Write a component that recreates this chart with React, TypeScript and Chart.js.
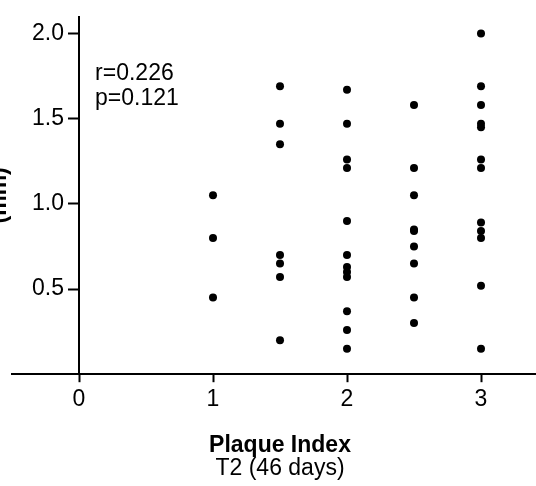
import React, { useEffect, useRef } from "react";
import { Chart, registerables } from "chart.js";

Chart.register(...registerables);

// ---- data ----
const plaqueIndexGroups = [1, 1.5, 2, 2.5, 3];
const valuesAt1 = [1.05, 0.8, 0.45];
const valuesAt15 = [1.69, 1.47, 1.35, 0.7, 0.65, 0.57, 0.2];
const valuesAt2 = [1.67, 1.47, 1.26, 1.21, 0.9, 0.7, 0.63, 0.6, 0.57, 0.37, 0.26, 0.15];
const valuesAt25 = [1.58, 1.21, 1.05, 0.85, 0.84, 0.75, 0.65, 0.45, 0.3];
const valuesAt3 = [2.0, 1.69, 1.58, 1.47, 1.45, 1.26, 1.21, 0.89, 0.84, 0.8, 0.52, 0.15];
const groupValues = [valuesAt1, valuesAt15, valuesAt2, valuesAt25, valuesAt3];

const xTickValues = [0, 1, 2, 3];
const yTickValues = [0.5, 1.0, 1.5, 2.0];
const xAxisTitle = "Plaque Index";
const xAxisSubtitle = "T2 (46 days)";
const yAxisTitle = "(mm)";
const statsLines = ["r=0.226", "p=0.121"];

const FONT = "'Liberation Sans', Arial, Helvetica, sans-serif";
const Y_TICK_LEN = 10;
const Y_TICK_PAD = 5;

// y axis sits at x = 0 (custom position); put its labels left of the tick marks
const yLabelPlacement = {
  id: "yLabelPlacement",
  beforeDraw(chart: any) {
    const ys = chart.scales.y;
    const xs = chart.scales.x;
    const axisX = xs.getPixelForValue(0);
    const items = ys.getLabelItems(chart.chartArea);
    items.forEach((it: any) => {
      it.options.translation[0] = axisX - Y_TICK_LEN - Y_TICK_PAD;
      it.options.textAlign = "right";
    });
  },
};

const overlayText = {
  id: "overlayText",
  afterDraw(chart: any) {
    const ctx = chart.ctx;
    const xs = chart.scales.x;
    const ys = chart.scales.y;
    ctx.save();
    ctx.fillStyle = "#000";
    ctx.font = `23px ${FONT}`;
    ctx.textAlign = "left";
    ctx.textBaseline = "alphabetic";
    const px = xs.getPixelForValue(0.12);
    const py = ys.getPixelForValue(1.725);
    statsLines.forEach((t, i) => ctx.fillText(t, px, py + i * 25));
    const area = chart.chartArea;
    ctx.translate(6, (area.top + area.bottom) / 2);
    ctx.rotate(-Math.PI / 2);
    ctx.font = `bold 23px ${FONT}`;
    ctx.textAlign = "center";
    ctx.fillText(yAxisTitle, 0, 0);
    ctx.restore();
  },
};

export default function App() {
  const ref = useRef<HTMLCanvasElement | null>(null);

  useEffect(() => {
    if (!ref.current) return;
    const points: { x: number; y: number }[] = [];
    plaqueIndexGroups.forEach((g, i) => {
      groupValues[i].forEach((v) => points.push({ x: g, y: v }));
    });
    const tickFont = { family: FONT, size: 23, lineHeight: 1 };
    const chart = new Chart(ref.current, {
      type: "scatter",
      data: {
        datasets: [
          {
            data: points,
            backgroundColor: "#000",
            borderColor: "#000",
            borderWidth: 0,
            pointRadius: 4,
            pointHoverRadius: 4,
          },
        ],
      },
      options: {
        animation: false,
        responsive: false,
        devicePixelRatio: 1,
        layout: { padding: { left: 12, right: 12, top: 13.3, bottom: 0 } },
        plugins: {
          legend: { display: false },
          tooltip: { enabled: false },
          title: {
            display: true,
            position: "bottom",
            text: xAxisSubtitle,
            color: "#000",
            font: { family: FONT, size: 23, weight: "normal", lineHeight: 1 },
            padding: { top: 0, bottom: 6 },
          },
        },
        scales: {
          x: {
            type: "linear",
            min: -0.5,
            max: 3.5,
            position: "bottom",
            afterBuildTicks: (s: any) => {
              s.ticks = xTickValues.map((v) => ({ value: v }));
            },
            grid: {
              display: true,
              drawOnChartArea: false,
              drawTicks: true,
              tickLength: 8,
              tickWidth: 2,
              tickColor: "#000",
            },
            border: { display: true, color: "#000", width: 2 },
            ticks: {
              font: tickFont,
              color: "#000",
              padding: 6,
              callback: (v: any) => String(v),
            },
            title: {
              display: true,
              text: xAxisTitle,
              color: "#000",
              font: { family: FONT, size: 23, weight: "bold", lineHeight: 1 },
              padding: { top: 16.8, bottom: 0 },
            },
          },
          y: {
            type: "linear",
            min: 0,
            max: 2.1,
            position: { x: 0 } as any,
            afterBuildTicks: (s: any) => {
              s.ticks = yTickValues.map((v) => ({ value: v }));
            },
            grid: {
              display: true,
              drawOnChartArea: false,
              drawTicks: true,
              tickLength: Y_TICK_LEN,
              tickWidth: 2,
              tickColor: "#000",
            },
            border: { display: true, color: "#000", width: 2 },
            ticks: {
              font: tickFont,
              color: "#000",
              padding: Y_TICK_PAD,
              callback: (v: any) => Number(v).toFixed(1),
            },
          },
        },
      },
      plugins: [yLabelPlacement, overlayText],
    });
    return () => chart.destroy();
  }, []);

  return (
    <div
      style={{
        position: "absolute",
        left: 0,
        top: 0,
        width: 536,
        height: 486,
        overflow: "hidden",
        background: "#fff",
      }}
    >
      <canvas ref={ref} width={560} height={486} style={{ display: "block" }} />
    </div>
  );
}
